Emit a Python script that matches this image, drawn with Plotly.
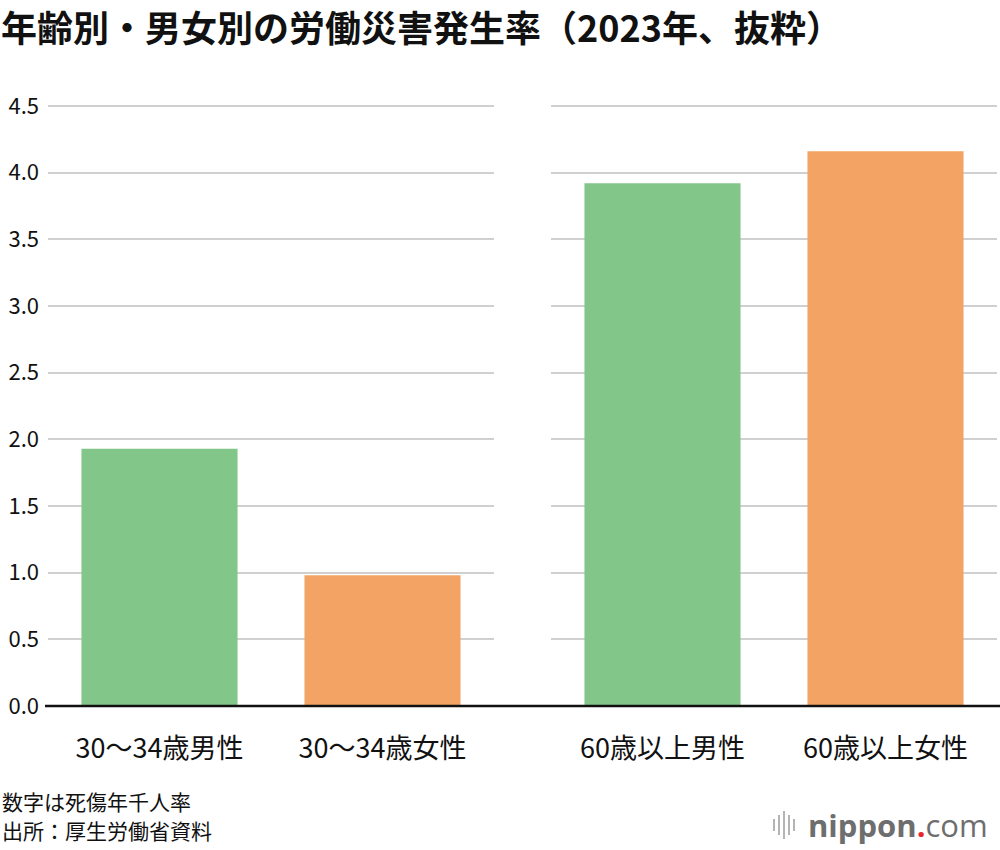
import plotly.graph_objects as go

# Data
categories_young = ["30〜34歳男性", "30〜34歳女性"]
values_young = [1.93, 0.98]
categories_old = ["60歳以上男性", "60歳以上女性"]
values_old = [3.92, 4.16]
bar_colors = ["#83C68A", "#F3A464"]
y_ticks = [0, 0.5, 1.0, 1.5, 2.0, 2.5, 3.0, 3.5, 4.0, 4.5]
y_tick_labels = ["0.0", "0.5", "1.0", "1.5", "2.0", "2.5", "3.0", "3.5", "4.0", "4.5"]

W, H = 1000, 850
FONT = "Noto Sans CJK JP"

fig = go.Figure()
fig.add_trace(go.Bar(x=categories_young, y=values_young, marker=dict(color=bar_colors, line=dict(width=0)),
                     xaxis="x", yaxis="y", hoverinfo="skip"))
fig.add_trace(go.Bar(x=categories_old, y=values_old, marker=dict(color=bar_colors, line=dict(width=0)),
                     xaxis="x2", yaxis="y2", hoverinfo="skip"))

YMAX = 4.6
px_per_unit = 600 / 4.5
y0 = 1 - 706 / H
y1 = 1 - (706 - YMAX * px_per_unit) / H

yax_common = dict(range=[0, YMAX], domain=[y0, y1], tickvals=y_ticks, showgrid=True,
                  gridcolor="#D0D0D0", gridwidth=2, zeroline=False, showline=False,
                  ticks="", fixedrange=True, automargin=False)

xfont = dict(size=27, color="#111111", family=FONT)
fig.update_layout(
    width=W, height=H,
    margin=dict(l=0, r=0, t=0, b=0, autoexpand=False),
    paper_bgcolor="white", plot_bgcolor="white",
    showlegend=False,
    bargap=0.3,
    font=dict(family=FONT, color="#111111"),
    xaxis=dict(domain=[48 / W, 494 / W], anchor="y", showline=False, ticks="",
               tickfont=xfont, ticklabelstandoff=24, automargin=False,
               showgrid=False, fixedrange=True),
    xaxis2=dict(domain=[551 / W, 997 / W], anchor="y2", showline=False, ticks="",
                tickfont=xfont, ticklabelstandoff=24, automargin=False,
                showgrid=False, fixedrange=True),
    yaxis=dict(**yax_common, anchor="x", ticktext=y_tick_labels,
               tickfont=dict(size=22, color="#111111", family=FONT), ticklabelstandoff=8),
    yaxis2=dict(**yax_common, anchor="x2", showticklabels=False),
)

# baseline
fig.add_shape(type="line", xref="paper", yref="paper", x0=45 / W, x1=1.0, y0=y0, y1=y0,
              line=dict(color="#111111", width=2.5), layer="above")

# title
fig.add_annotation(text="<b>年齢別・男女別の労働災害発生率（2023年、抜粋）</b>",
                   xref="paper", yref="paper", x=0, y=1 - 26 / H, xanchor="left", yanchor="middle",
                   showarrow=False, borderpad=0, font=dict(size=36, color="#111111", family=FONT))

# notes
fig.add_annotation(text="数字は死傷年千人率", xref="paper", yref="paper", x=0, y=1 - 801 / H,
                   xanchor="left", yanchor="middle", showarrow=False,
                   font=dict(size=21, color="#111111", family=FONT))
fig.add_annotation(text="出所：厚生労働省資料", xref="paper", yref="paper", x=0, y=1 - 830 / H,
                   xanchor="left", yanchor="middle", showarrow=False,
                   font=dict(size=21, color="#111111", family=FONT))

# logo
fig.add_annotation(text="<b>nippon</b><span style='color:#E8262B'><b>.</b></span>com",
                   xref="paper", yref="paper", x=990 / W, y=1 - 825 / H,
                   xanchor="right", yanchor="middle", showarrow=False,
                   font=dict(size=31, color="#6E6E6E", family="Open Sans"))
icon_lines = [(774, 6), (779, 10), (784, 14), (789, 10), (794, 6)]
for lx, hh in icon_lines:
    fig.add_shape(type="line", xref="paper", yref="paper", x0=lx / W, x1=lx / W,
                  y0=1 - (825 + hh) / H, y1=1 - (825 - hh) / H,
                  line=dict(color="#B5B5B5", width=2))

fig.write_html("out.html")
